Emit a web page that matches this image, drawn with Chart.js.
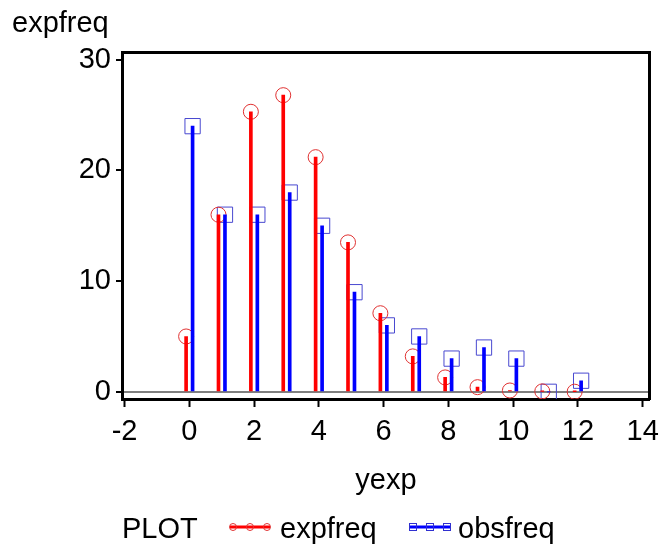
<!DOCTYPE html>
<html>
<head>
<meta charset="utf-8">
<script src="https://cdn.jsdelivr.net/npm/chart.js@4/dist/chart.umd.min.js"></script>
<style>
    html, body { margin: 0; padding: 0; background: #fff; }
</style>
</head>
<body>
<canvas id="needles" width="667" height="548"></canvas>
<script>
// values
const yexp = [0, 1, 2, 3, 4, 5, 6, 7, 8, 9, 10, 11, 12];
const expfreq = [5.0, 16.0, 25.3, 26.8, 21.2, 13.5, 7.1, 3.2, 1.3, 0.42, 0.12, 0.04, 0.01];
const obsfreq = [24, 16, 16, 18, 15, 9, 6, 5, 3, 4, 3, 0, 1];
const xTicks = [-2, 0, 2, 4, 6, 8, 10, 12, 14];
const yTicks = [0, 10, 20, 30];

const FONT = '"Liberation Sans", Arial, sans-serif';
const RED = '#ff0000';
const BLUE = '#0000ff';

// the two series are dodged a little either side of each yexp value
const expPoints = yexp.map((v, i) => ({x: v - 0.1, y: expfreq[i]}));
const obsPoints = yexp.map((v, i) => ({x: v + 0.1, y: obsfreq[i]}));

function fixWidth(w) {
    return function (scale) { scale.width = w; };
}
function fixHeight(h) {
    return function (scale) { scale.height = h; };
}

// axis title on top-left, x title and the PLOT legend row
const textPlugin = {
    id: 'sasText',
    afterDraw: function (chart) {
        const ctx = chart.ctx;
        ctx.save();
        ctx.fillStyle = '#000';
        ctx.font = '29px ' + FONT;
        ctx.textBaseline = 'alphabetic';
        ctx.textAlign = 'left';
        ctx.fillText('expfreq', 12, 32);

        ctx.textAlign = 'center';
        ctx.fillText('yexp', 386, 489);

        ctx.textAlign = 'left';
        ctx.fillText('PLOT', 122, 538);
        ctx.fillText('expfreq', 280, 538);
        ctx.fillText('obsfreq', 458, 538);

        // red sample
        const ly = 527;
        ctx.strokeStyle = RED;
        ctx.lineWidth = 3;
        ctx.beginPath();
        ctx.moveTo(230, ly);
        ctx.lineTo(270, ly);
        ctx.stroke();
        ctx.lineWidth = 1;
        ctx.strokeStyle = '#e03030';
        [233, 250, 267].forEach(function (cx) {
            ctx.beginPath();
            ctx.arc(cx, ly, 3.5, 0, Math.PI * 2);
            ctx.stroke();
        });

        // blue sample
        ctx.strokeStyle = BLUE;
        ctx.lineWidth = 3;
        ctx.beginPath();
        ctx.moveTo(410, ly);
        ctx.lineTo(450, ly);
        ctx.stroke();
        ctx.lineWidth = 1;
        ctx.strokeStyle = '#3030d0';
        [413, 430, 447].forEach(function (cx) {
            ctx.strokeRect(cx - 3.5, ly - 3.5, 7, 7);
        });
        ctx.restore();
    }
};

new Chart(document.getElementById('needles'), {
    type: 'scatter',
    data: {
        datasets: [
            {
                type: 'bar',
                label: 'expfreq',
                data: expPoints,
                backgroundColor: RED,
                borderWidth: 0,
                barThickness: 3,
                grouped: false,
                order: 1
            },
            {
                type: 'bar',
                label: 'obsfreq',
                data: obsPoints,
                backgroundColor: BLUE,
                borderWidth: 0,
                barThickness: 3,
                grouped: false,
                order: 1
            },
            {
                type: 'scatter',
                label: 'expfreq',
                data: expPoints,
                pointStyle: 'circle',
                pointRadius: 7.5,
                pointBorderWidth: 1,
                pointBorderColor: '#e03030',
                pointBackgroundColor: 'rgba(0,0,0,0)',
                order: 2
            },
            {
                type: 'scatter',
                label: 'obsfreq',
                data: obsPoints,
                pointStyle: 'rect',
                pointRadius: 10.8,
                pointBorderWidth: 1,
                pointBorderColor: '#4848d0',
                pointBackgroundColor: 'rgba(0,0,0,0)',
                order: 2
            }
        ]
    },
    options: {
        responsive: false,
        animation: false,
        devicePixelRatio: 1,
        layout: {padding: 0},
        scales: {
            x: {
                type: 'linear',
                position: 'bottom',
                min: -2.08,
                max: 14.2,
                offset: false,
                afterBuildTicks: function (scale) {
                    scale.ticks = xTicks.map(v => ({value: v}));
                },
                afterFit: fixHeight(149),
                ticks: {
                    color: '#000',
                    font: {family: FONT, size: 29},
                    padding: 8,
                    maxRotation: 0,
                    autoSkip: false
                },
                grid: {
                    offset: false,
                    drawOnChartArea: false,
                    tickLength: 8,
                    tickWidth: 2,
                    tickColor: '#000'
                },
                border: {display: true, color: '#000', width: 3}
            },
            x2: {
                type: 'linear',
                position: 'top',
                afterFit: fixHeight(52),
                ticks: {display: false},
                grid: {display: false},
                border: {display: true, color: '#000', width: 3}
            },
            y: {
                type: 'linear',
                position: 'left',
                min: -0.65,
                max: 30.7,
                afterBuildTicks: function (scale) {
                    scale.ticks = yTicks.map(v => ({value: v}));
                },
                afterFit: fixWidth(122),
                ticks: {
                    color: '#000',
                    font: {family: FONT, size: 29},
                    padding: 5
                },
                grid: {
                    color: function (ctx) {
                        return ctx.tick && ctx.tick.value === 0 ? '#808080' : 'rgba(0,0,0,0)';
                    },
                    lineWidth: 2,
                    tickLength: 6,
                    tickWidth: 2,
                    tickColor: '#000'
                },
                border: {display: true, color: '#000', width: 3}
            },
            y2: {
                type: 'linear',
                position: 'right',
                afterFit: fixWidth(16),
                ticks: {display: false},
                grid: {display: false},
                border: {display: true, color: '#000', width: 3}
            }
        },
        plugins: {
            legend: {display: false},
            tooltip: {enabled: false}
        }
    },
    plugins: [textPlugin]
});
</script>
</body>
</html>
